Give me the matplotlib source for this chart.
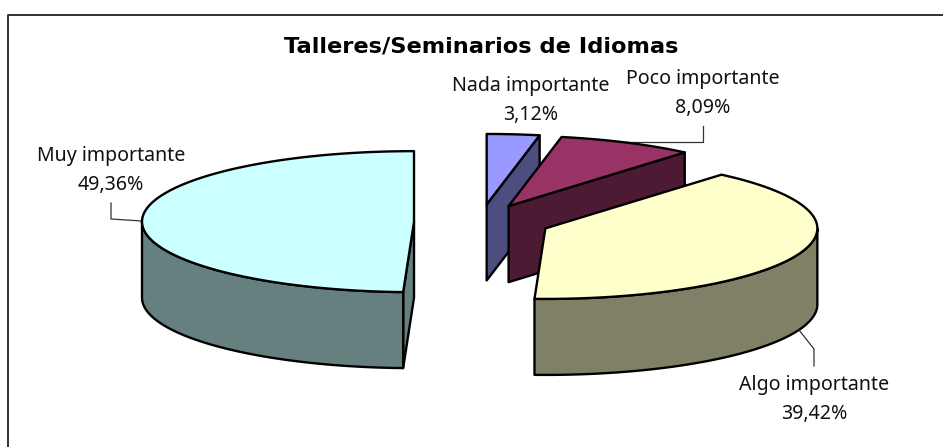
import numpy as np
import matplotlib
matplotlib.use('Agg')
import matplotlib.pyplot as plt
from matplotlib.patches import Polygon

plt.rcParams['font.family'] = ['Noto Sans', 'DejaVu Sans']

title = 'Talleres/Seminarios de Idiomas'
labels = ['Nada importante', 'Poco importante', 'Algo importante', 'Muy importante']
values = [3.12, 8.09, 39.42, 49.36]
top_colors = ['#9999FF', '#993366', '#FFFFCC', '#CCFFFF']
side_colors = ['#4D4D80', '#4D1A33', '#808066', '#668080']

W, H = 943, 447
fig = plt.figure(figsize=(W/100, H/100), dpi=100)
ax = fig.add_axes([0, 0, 1, 1])
ax.set_xlim(0, W)
ax.set_ylim(H, 0)
ax.axis('off')

cx, cy = 482, 222
a, b, depth = 272, 70.5, 76
expl = 0.25
nudge = [-2, -3, 0, 0]
lw = 1.7


def rim(t0, t1, x0, y0):
	t = np.radians(np.linspace(t0, t1, max(int(abs(t1-t0)*2), 2)))
	return np.column_stack([x0+a*np.sin(t), y0-b*np.cos(t)])


def shape(pts, col):
	ax.add_patch(Polygon(pts, closed=True, fc=col, ec='black', lw=lw, joinstyle='round', zorder=3))


# leader lines go under the slices
ax.plot([703, 703, 625], [126, 142, 142], color='#333333', lw=0.9, zorder=1)
ax.plot([111, 111, 142], [203, 219, 221], color='#333333', lw=0.9, zorder=1)
ax.plot([799, 814, 814], [330, 349, 366], color='#333333', lw=0.9, zorder=4)

total = sum(values)
start = 0
for v, top, side, nx in zip(values, top_colors, side_colors, nudge):
	end = start+v/total*360
	mid = np.radians((start+end)/2)
	x0 = cx+expl*a*np.sin(mid)+nx
	y0 = cy-expl*b*np.cos(mid)
	down = np.array([0, depth])
	apex = np.array([x0, y0])

	# cut faces, only those turned to the viewer
	for t in (start, end):
		p = rim(t, t, x0, y0)[0]
		if (t == end and 0 < t < 90) or (t == start and 180 < t < 270):
			shape([apex, p, p+down, apex+down], side)

	# outer wall
	w0, w1 = max(start, 90), min(end, 270)
	if w1 > w0:
		arc = rim(w0, w1, x0, y0)
		shape(np.vstack([arc, arc[::-1]+down]), side)

	shape(np.vstack([apex, rim(start, end, x0, y0)]), top)
	start = end

# frame, the picture is cut at right and bottom
ax.plot([8, 8, W], [H, 14.5, 14.5], color='#222222', lw=1.3, clip_on=False, zorder=2)

ax.text(481, 47, title, ha='center', va='center', family='DejaVu Sans', fontsize=16.2, fontweight='bold', color='black')

text_pos = [(531, 86), (703, 79), (814, 385), (111, 156)]
for lab, v, (tx, ty) in zip(labels, values, text_pos):
	ax.text(tx, ty, lab, ha='center', va='center', fontsize=14.1, color='#111111')
	ax.text(tx, ty+29, ('%.2f' % v).replace('.', ',')+'%', ha='center', va='center', fontsize=14.1, color='#111111')

fig.savefig('out.png', dpi=100)
